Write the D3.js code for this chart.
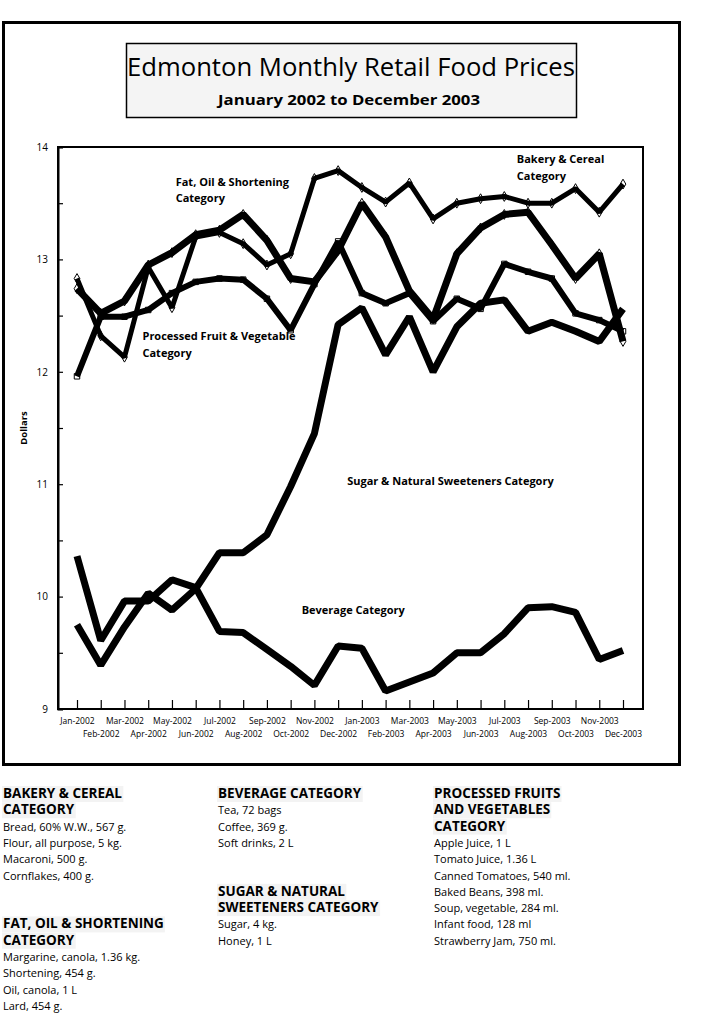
<!DOCTYPE html>
<html>
<head>
<meta charset="utf-8">
<script src="https://cdn.jsdelivr.net/npm/d3@7"></script>
<style>
  html, body { margin: 0; padding: 0; background: #fff; }
  svg { display: block; }
  text { font-family: "Open Sans", "DejaVu Sans", sans-serif; fill: #000; }
</style>
</head>
<body>
<svg id="chart" width="721" height="1030"></svg>
<script>
// ---------------- DATA ----------------
const months = ["Jan-2002","Feb-2002","Mar-2002","Apr-2002","May-2002","Jun-2002","Jul-2002","Aug-2002","Sep-2002","Oct-2002","Nov-2002","Dec-2002",
                "Jan-2003","Feb-2003","Mar-2003","Apr-2003","May-2003","Jun-2003","Jul-2003","Aug-2003","Sep-2003","Oct-2003","Nov-2003","Dec-2003"];

const bakeryCereal = [12.83,12.32,12.13,12.93,12.57,13.20,13.24,13.14,12.95,13.05,13.72,13.79,
                      13.64,13.51,13.68,13.36,13.50,13.54,13.56,13.50,13.50,13.63,13.42,13.67];
const fatOilShortening = [12.74,12.52,12.63,12.95,13.06,13.22,13.26,13.40,13.17,12.83,12.80,13.08,
                          13.50,13.20,12.72,12.47,13.05,13.28,13.40,13.42,13.13,12.83,13.05,12.27];
const processedFruitVeg = [11.96,12.49,12.49,12.55,12.70,12.80,12.83,12.82,12.65,12.37,12.78,13.16,
                           12.70,12.61,12.70,12.45,12.65,12.56,12.96,12.89,12.83,12.52,12.46,12.36];
const sugarSweeteners = [9.75,9.39,9.73,10.03,9.88,10.07,10.39,10.39,10.55,10.98,11.45,12.42,
                         12.57,12.15,12.49,12.00,12.40,12.61,12.64,12.36,12.44,12.36,12.27,12.56];
const beverage = [10.36,9.61,9.96,9.96,10.15,10.08,9.69,9.68,9.53,9.38,9.21,9.56,
                  9.54,9.16,9.24,9.32,9.50,9.50,9.67,9.90,9.91,9.86,9.44,9.52];

const yTicks = [9, 9.5, 10, 10.5, 11, 11.5, 12, 12.5, 13, 13.5, 14];

const title = "Edmonton Monthly Retail Food Prices";
const subtitle = "January 2002 to December 2003";
const yLabel = "Dollars";

const lineLabels = [
  {lines: ["Fat, Oil & Shortening", "Category"], month: "Jun-2002", value: 13.655, dx: -20},
  {lines: ["Processed Fruit & Vegetable", "Category"], month: "Mar-2002", value: 12.28, dx: 18},
  {lines: ["Bakery & Cereal", "Category"], month: "Sep-2003", value: 13.855, dx: -35},
  {lines: ["Sugar & Natural Sweeteners Category"], month: "Dec-2002", value: 10.99, dx: 9},
  {lines: ["Beverage Category"], month: "Oct-2002", value: 9.845, dx: 11}
];

const notes = [
  {col: 0, row: 0, head: ["BAKERY & CEREAL", "CATEGORY"],
   items: ["Bread, 60% W.W., 567 g.", "Flour, all purpose, 5 kg.", "Macaroni, 500 g.", "Cornflakes, 400 g."]},
  {col: 0, row: 8, head: ["FAT, OIL & SHORTENING", "CATEGORY"],
   items: ["Margarine, canola, 1.36 kg.", "Shortening, 454 g.", "Oil, canola, 1 L", "Lard, 454 g."]},
  {col: 1, row: 0, head: ["BEVERAGE CATEGORY"],
   items: ["Tea, 72 bags", "Coffee, 369 g.", "Soft drinks, 2 L"]},
  {col: 1, row: 6, head: ["SUGAR & NATURAL", "SWEETENERS CATEGORY"],
   items: ["Sugar, 4 kg.", "Honey, 1 L"]},
  {col: 2, row: 0, head: ["PROCESSED FRUITS", "AND VEGETABLES", "CATEGORY"],
   items: ["Apple Juice, 1 L", "Tomato Juice, 1.36 L", "Canned Tomatoes, 540 ml.", "Baked Beans, 398 ml.",
           "Soup, vegetable, 284 ml.", "Infant food, 128 ml", "Strawberry Jam, 750 ml."]}
];

// ---------------- DRAW ----------------
const svg = d3.select("#chart");

// outer frame
svg.append("rect").attr("x", 3.5).attr("y", 22.5).attr("width", 676).attr("height", 742)
  .attr("fill", "none").attr("stroke", "#000").attr("stroke-width", 3);

// title box
svg.append("rect").attr("x", 126.5).attr("y", 43.5).attr("width", 450).attr("height", 74)
  .attr("fill", "#f4f4f4").attr("stroke", "#000").attr("stroke-width", 1.5);
svg.append("text").attr("x", 351).attr("y", 76).attr("text-anchor", "middle")
  .attr("font-size", 25).attr("textLength", 448).attr("lengthAdjust", "spacingAndGlyphs")
  .text(title);
svg.append("text").attr("x", 349).attr("y", 105).attr("text-anchor", "middle")
  .attr("font-size", 14).attr("font-weight", "bold").attr("textLength", 262).attr("lengthAdjust", "spacingAndGlyphs")
  .text(subtitle);

const plot = {left: 58, right: 643, top: 147, bottom: 709};

const x = d3.scalePoint().domain(months).range([77, 623]);
const y = d3.scaleLinear().domain([9, 14]).range([plot.bottom, plot.top]);

// plot frame
svg.append("rect").attr("x", plot.left).attr("y", plot.top)
  .attr("width", plot.right - plot.left).attr("height", plot.bottom - plot.top)
  .attr("fill", "none").attr("stroke", "#000").attr("stroke-width", 2);

// y axis
const yAxis = svg.append("g").attr("transform", `translate(${plot.left},0)`)
  .call(d3.axisLeft(y).tickValues(yTicks).tickSize(-5).tickPadding(10)
    .tickFormat(d => Number.isInteger(d) ? d3.format("d")(d) : ""));
yAxis.select(".domain").attr("stroke-width", 2);
yAxis.selectAll(".tick line").attr("stroke-width", 1.2);
yAxis.selectAll("text").attr("font-size", 10).attr("font-family", "DejaVu Sans, sans-serif");

// x axis
const xAxis = svg.append("g").attr("transform", `translate(0,${plot.bottom})`)
  .call(d3.axisBottom(x).tickSize(-9).tickPadding(0).tickSizeOuter(0));
xAxis.select(".domain").remove();
xAxis.selectAll(".tick line").attr("stroke-width", 1.2);
xAxis.selectAll("text")
  .attr("font-size", 8.5).attr("font-family", "Open Sans, sans-serif")
  .attr("y", (d, i) => i % 2 === 0 ? 14.5 : 27.5).attr("dy", "0");

// y label
svg.append("text").attr("transform", "translate(27,428) rotate(-90)")
  .attr("text-anchor", "middle").attr("font-size", 9.5).attr("font-weight", "bold")
  .text(yLabel);

// lines
const line = d3.line().x((d, i) => x(months[i])).y(d => y(d));

const series = [
  {name: "Processed", data: processedFruitVeg, w: 6, marker: "square"},
  {name: "Bakery", data: bakeryCereal, w: 5, marker: "diamond"},
  {name: "Fat", data: fatOilShortening, w: 7, marker: "diamond"},
  {name: "Sugar", data: sugarSweeteners, w: 7, marker: null},
  {name: "Beverage", data: beverage, w: 7, marker: null}
];

const gMarkers = svg.append("g");
const gLines = svg.append("g");
series.forEach(s => {
  if (s.marker) {
    const sym = d3.symbol().type(s.marker === "square" ? d3.symbolSquare : d3.symbolDiamond).size(s.marker === "square" ? 30 : 28);
    gMarkers.selectAll(null).data(s.data).enter().append("path")
      .attr("d", sym)
      .attr("transform", (d, i) => `translate(${x(months[i])},${y(d)})`)
      .attr("fill", "#fff").attr("stroke", "#000").attr("stroke-width", 1);
  }
  gLines.append("path").datum(s.data)
    .attr("d", line)
    .attr("fill", "none").attr("stroke", "#000")
    .attr("stroke-width", s.w).attr("stroke-linejoin", "bevel");
});

// line labels
lineLabels.forEach(l => {
  const t = svg.append("text")
    .attr("x", x(l.month) + l.dx).attr("y", y(l.value))
    .attr("font-size", 11).attr("font-weight", "bold");
  l.lines.forEach((s, i) => {
    t.append("tspan").attr("x", x(l.month) + l.dx).attr("dy", i === 0 ? 0 : 16.5).text(s);
  });
});

// notes below chart
const colX = [3, 218, 434];
const rowY0 = 798, rowH = 16.3;
notes.forEach(n => {
  let r = n.row;
  n.head.forEach(h => {
    const t = svg.append("text").attr("x", colX[n.col]).attr("y", rowY0 + r * rowH)
      .attr("font-size", 13.5).attr("font-weight", "bold").text(h);
    const bb = t.node().getBBox();
    svg.insert("rect", "text").attr("x", bb.x - 1).attr("y", rowY0 + r * rowH - 12)
      .attr("width", bb.width + 2).attr("height", 16).attr("fill", "#f3f3f3");
    r++;
  });
  n.items.forEach(it => {
    svg.append("text").attr("x", colX[n.col]).attr("y", rowY0 + r * rowH)
      .attr("font-size", 11).text(it);
    r++;
  });
});
</script>
</body>
</html>
